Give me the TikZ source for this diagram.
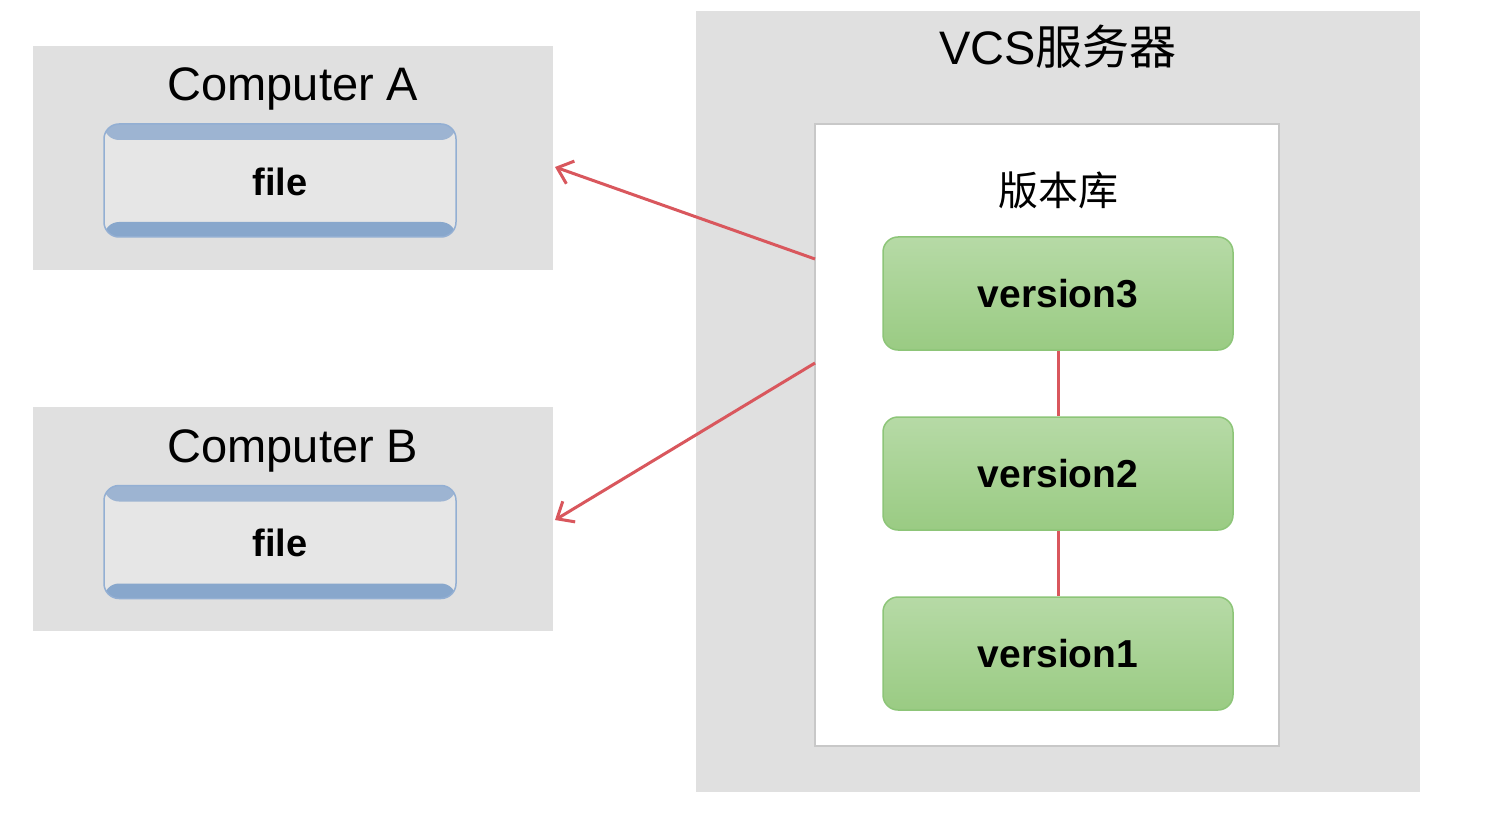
\documentclass[tikz,border=0pt]{standalone}
\usepackage{fontspec}
\setmainfont{Liberation Sans}
\newfontfamily\cjkfont{Noto Sans CJK SC}
\usetikzlibrary{arrows.meta}
\definecolor{panelgray}{HTML}{E0E0E0}
\definecolor{repoborder}{HTML}{C8C8C8}
\definecolor{filemid}{HTML}{E6E6E6}
\definecolor{filetop}{HTML}{9DB4D2}
\definecolor{filebot}{HTML}{88A7CC}
\definecolor{fileborder}{HTML}{93AFD3}
\definecolor{greentop}{HTML}{B6DAA6}
\definecolor{greenbot}{HTML}{9ACB83}
\definecolor{greenborder}{HTML}{8DC578}
\definecolor{linkred}{HTML}{D9575D}
\tikzset{
  panel/.style={fill=panelgray, draw=none, inner sep=0pt},
  repobox/.style={fill=white, draw=repoborder, line width=2pt, inner sep=0pt},
  filebox/.style={rounded corners=15pt, fill=filemid, draw=fileborder, line width=1.5pt,
    minimum width=352pt, minimum height=113pt, inner sep=0pt,
    path picture={
      \fill[filetop] (path picture bounding box.north west) rectangle ([yshift=-16pt]path picture bounding box.north east);
      \fill[filebot] (path picture bounding box.south west) rectangle ([yshift=15pt]path picture bounding box.south east);
    }},
  filetext/.style={inner sep=0pt, font=\fontsize{38}{40}\selectfont\bfseries},
  verbox/.style={rounded corners=15pt, top color=greentop, bottom color=greenbot, draw=greenborder, line width=1.5pt,
    minimum width=350pt, minimum height=113pt, inner sep=0pt,
    font=\fontsize{39}{41}\selectfont\bfseries},
  title/.style={inner sep=0pt, anchor=base, font=\fontsize{47}{50}\selectfont},
  link/.style={draw=linkred, line width=3pt},
  pull/.style={draw=linkred, line width=3pt, -{Straight Barb[length=14pt,width=24pt,line width=3pt]}}
}
\begin{document}
\begin{tikzpicture}[x=1pt,y=-1pt]
\useasboundingbox (0,0) rectangle (1490,826);
\fill[white] (0,0) rectangle (1490,826);
% panels
\node[panel, minimum width=520pt, minimum height=224pt] (compA) at (293,158) {};
\node[panel, minimum width=520pt, minimum height=224pt] (compB) at (293,519) {};
\node[panel, minimum width=724pt, minimum height=781pt] (vcs) at (1058,401.5) {};
\node[repobox, minimum width=464pt, minimum height=622pt] (repo) at (1047,435) {};
% titles
\node[title] (tA) at (293,101) {Computer A};
\node[title] (tB) at (293,462) {Computer B};
\node[title] (tV) at (1058,65) {VCS{\cjkfont 服务器}};
\node[inner sep=0pt, font=\fontsize{40}{42}\selectfont\cjkfont] (tR) at (1058,190) {版本库};
% file boxes
\node[filebox] (fileA) at (280,180.5) {};
\node[filetext] (fileAt) at (280,182) {file};
\node[filebox] (fileB) at (280,542) {};
\node[filetext] (fileBt) at (280,543) {file};
% versions
\node[verbox] (v3) at (1058,293.5) {version3};
\node[verbox] (v2) at (1058,473.5) {version2};
\node[verbox] (v1) at (1058,653.5) {version1};
\draw[link] (v3.south) -- (v2.north);
\draw[link] (v2.south) -- (v1.north);
% arrows
\coordinate (sA) at (815,259);
\coordinate (sB) at (815,363);
\coordinate (eA) at (555,167);
\coordinate (eB) at (555,520);
\draw[pull] (sA) -- (eA);
\draw[pull] (sB) -- (eB);
\end{tikzpicture}
\end{document}
